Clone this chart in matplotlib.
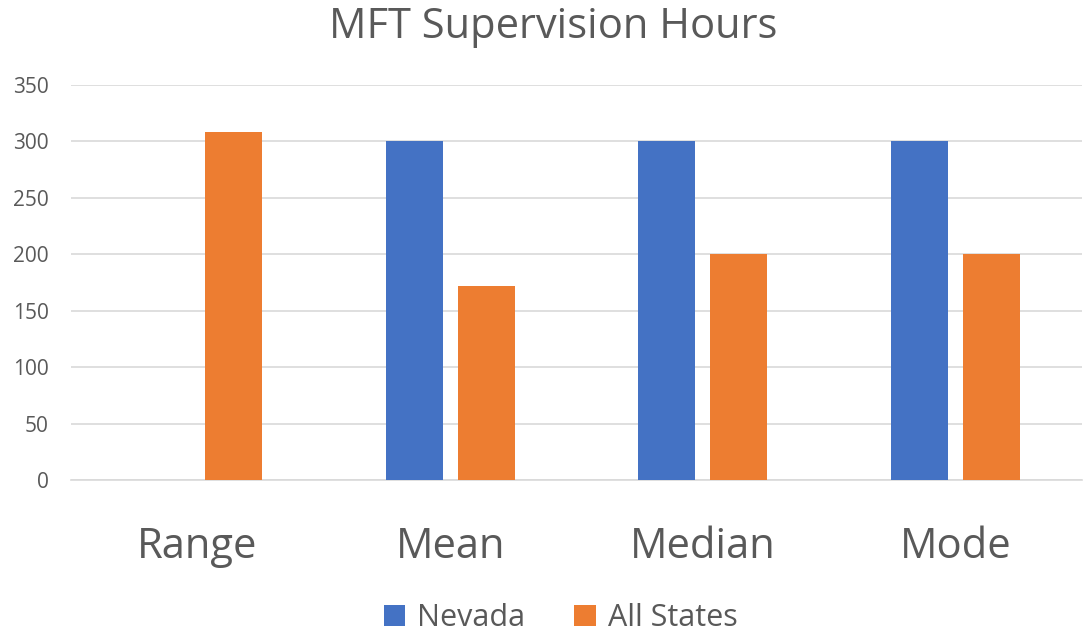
import matplotlib
matplotlib.use("Agg")
import matplotlib.pyplot as plt
import numpy as np

plt.rcParams['font.family'] = ['Open Sans', 'DejaVu Sans']

categories = ["Range", "Mean", "Median", "Mode"]
nevada = [0, 300, 300, 300]
all_states = [308, 172, 200, 200]
series_names = ["Nevada", "All States"]
colors = ["#4472C4", "#ED7D31"]
yticks = [0, 50, 100, 150, 200, 250, 300, 350]

fig = plt.figure(figsize=(10.89, 6.34), dpi=100)
ax = fig.add_axes([0.0652, 0.2429, 0.9284, 0.6231])

x = np.arange(len(categories))
w = 0.225
gap = 0.06
ax.bar(x - (w + gap) / 2, nevada, width=w, color=colors[0], label=series_names[0], zorder=3)
ax.bar(x + (w + gap) / 2, all_states, width=w, color=colors[1], label=series_names[1], zorder=3)

ax.set_xlim(-0.5, len(categories) - 0.5)
ax.set_ylim(0, 350)
ax.set_yticks(yticks)
ax.yaxis.grid(True, color="#D9D9D9", linewidth=1.2, zorder=0)
ax.set_axisbelow(True)
for s in ["left", "right", "top"]:
    ax.spines[s].set_visible(False)
ax.spines["bottom"].set_color("#D9D9D9")
ax.spines["bottom"].set_linewidth(1.2)
ax.tick_params(axis="y", length=0, labelsize=15, labelcolor="#595959", pad=16)
ax.tick_params(axis="x", length=0, labelsize=30, labelcolor="#595959", pad=33)
ax.set_xticks(x)
ax.set_xticklabels(categories)

fig.text(0.508, 0.958, "MFT Supervision Hours", ha="center", va="center", fontsize=30, color="#595959")

leg = fig.legend(loc="center", bbox_to_anchor=(0.515, 0.025), ncol=2, frameon=False,
                 fontsize=22, labelcolor="#595959", handlelength=0.7, handleheight=0.7,
                 handletextpad=0.4, columnspacing=1.6)

fig.savefig("out.png", dpi=100)
